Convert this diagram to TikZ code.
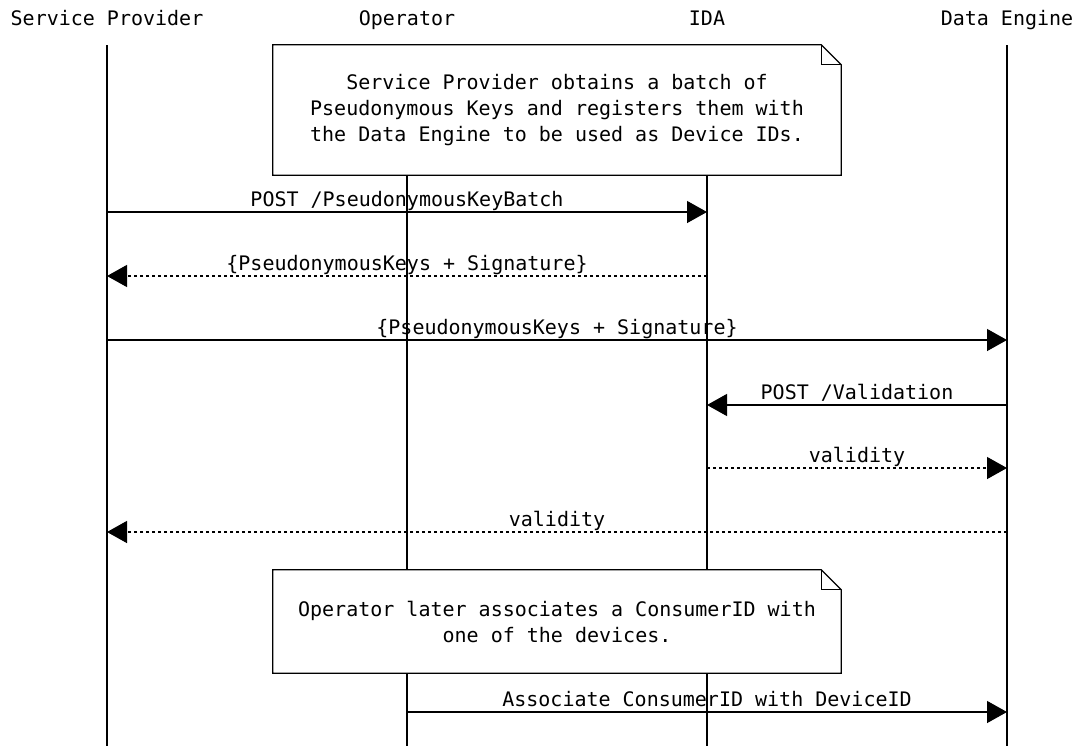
\documentclass[tikz,border=0pt]{standalone}
\usepackage{fontspec}
\setmainfont{DejaVu Sans Mono}
\usetikzlibrary{arrows.meta, calc}
\tikzstyle{actor} = [anchor=base, inner sep=0pt]
\tikzstyle{lifeline} = [line width=1pt]
\tikzstyle{note} = [fill=white, align=center, minimum width=426pt, inner sep=0pt]
\tikzstyle{noteline} = [line width=1pt, line join=miter]
\tikzstyle{msg} = [line width=1pt, -{Triangle[length=15pt, width=16.5pt]}]
\tikzstyle{reply} = [msg, dash pattern=on 2.25pt off 2.25pt]
\tikzstyle{msglabel} = [anchor=base, yshift=4.5pt, inner sep=0pt]

\begin{document}
\begin{tikzpicture}[x=0.75pt, y=-0.75pt, font=\fontsize{15}{19.5}\selectfont]
\useasboundingbox (0,0) rectangle (1075,746);

% Participants
\node (sp) [actor] at (107,26) {Service Provider};
\node (op) [actor] at (407,26) {Operator};
\node (ida) [actor] at (707,26) {IDA};
\node (de) [actor] at (1007,26) {Data Engine};

% Rows
\coordinate (top) at (0,45);
\coordinate (bottom) at (0,746);
\coordinate (m1) at (0,212);
\coordinate (m2) at (0,276);
\coordinate (m3) at (0,340);
\coordinate (m4) at (0,405);
\coordinate (m5) at (0,468);
\coordinate (m6) at (0,532);
\coordinate (m7) at (0,712);

% Lifelines
\foreach \p in {sp, op, ida, de}
  \draw [lifeline] (\p |- top) -- (\p |- bottom);

% Note: key batch
\node (note1) [note, minimum height=97.5pt] at (557,110) {Service Provider obtains a batch of\\Pseudonymous Keys and registers them with\\the Data Engine to be used as Device IDs.};
\draw [noteline] (note1.north west) -- ($(note1.north east)+(-20,0)$) -- ($(note1.north east)+(0,20)$) -- (note1.south east) -- (note1.south west) -- cycle;
\draw [noteline] ($(note1.north east)+(-20,0)$) -- ($(note1.north east)+(-20,20)$) -- ($(note1.north east)+(0,20)$);

% Messages
\draw [msg] (sp |- m1) -- node[msglabel] {POST /PseudonymousKeyBatch} (ida |- m1);
\draw [reply] (ida |- m2) -- node[msglabel] {\{PseudonymousKeys + Signature\}} (sp |- m2);
\draw [msg] (sp |- m3) -- node[msglabel] {\{PseudonymousKeys + Signature\}} (de |- m3);
\draw [msg] (de |- m4) -- node[msglabel] {POST /Validation} (ida |- m4);
\draw [reply] (ida |- m5) -- node[msglabel] {validity} (de |- m5);
\draw [reply] (de |- m6) -- node[msglabel] {validity} (sp |- m6);

% Note: consumer
\node (note2) [note, minimum height=77.25pt] at (557,621.5) {Operator later associates a ConsumerID with\\one of the devices.};
\draw [noteline] (note2.north west) -- ($(note2.north east)+(-20,0)$) -- ($(note2.north east)+(0,20)$) -- (note2.south east) -- (note2.south west) -- cycle;
\draw [noteline] ($(note2.north east)+(-20,0)$) -- ($(note2.north east)+(-20,20)$) -- ($(note2.north east)+(0,20)$);

\draw [msg] (op |- m7) -- node[msglabel] {Associate ConsumerID with DeviceID} (de |- m7);

\end{tikzpicture}
\end{document}
